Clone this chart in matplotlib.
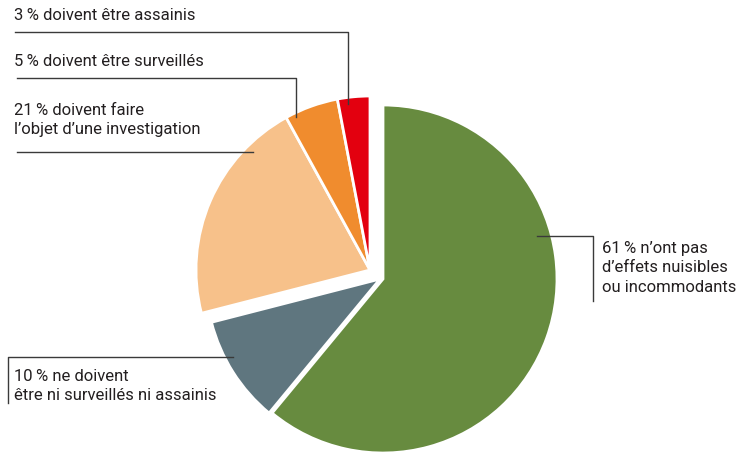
import matplotlib
matplotlib.use("Agg")
import matplotlib.pyplot as plt

plt.rcParams['font.family'] = ['Roboto', 'DejaVu Sans']

# données
parts = [0.61, 0.10, 0.21, 0.05, 0.03]
colors = ['#678b3f', '#5f767f', '#f7c18a', '#f08c2e', '#e3000f']
labels = [
    "61\u2009% n’ont pas\nd’effets nuisibles\nou incommodants",
    "10\u2009% ne doivent\nêtre ni surveillés ni assainis",
    "21\u2009% doivent faire\nl’objet d’une investigation",
    "5\u2009% doivent être surveillés",
    "3\u2009% doivent être assainis",
]

W, H = 738, 455
fig = plt.figure(figsize=(W / 100, H / 100), dpi=100)
ax = fig.add_axes([0, 0, 1, 1])

cx, cy, r = 383, H - 279, 174
wedges, _ = ax.pie(parts, colors=colors, startangle=90, counterclock=False,
                   radius=r, center=(cx, cy), normalize=False,
                   wedgeprops=dict(edgecolor='white', linewidth=2))
# le groupe 21/5/3 est détaché
for w in wedges[2:]:
    w.set_center((cx - 13, cy + 9))
wedges[1].set_center((cx - 3, cy))
ax.set_xlim(0, W)
ax.set_ylim(0, H)
ax.set_aspect('auto')
ax.axis('off')

def Y(y):
    return H - y

lc = '#3a3a3a'
lw = 1.0
fs = 12
tc = '#231f20'

# 3 %
ax.plot([15, 348, 348], [Y(32), Y(32), Y(104)], color=lc, lw=lw)
ax.text(14, Y(16), labels[4], fontsize=fs, va='center', ha='left', color=tc)
# 5 %
ax.plot([17, 296, 296], [Y(78), Y(78), Y(117)], color=lc, lw=lw)
ax.text(14, Y(62), labels[3], fontsize=fs, va='center', ha='left', color=tc)
# 21 %
ax.plot([17, 253], [Y(152), Y(152)], color=lc, lw=lw)
ax.text(14, Y(120), labels[2], fontsize=fs, va='center', ha='left', color=tc,
        linespacing=1.4)
# 10 %
ax.plot([8, 8, 233], [Y(403), Y(357), Y(357)], color=lc, lw=lw)
ax.text(14, Y(386), labels[1], fontsize=fs, va='center', ha='left', color=tc,
        linespacing=1.4)
# 61 %
ax.plot([537, 593, 593], [Y(236), Y(236), Y(301)], color=lc, lw=lw)
ax.text(602, Y(268), labels[0], fontsize=fs, va='center', ha='left', color=tc,
        linespacing=1.4)

fig.savefig('out.png', dpi=100)
